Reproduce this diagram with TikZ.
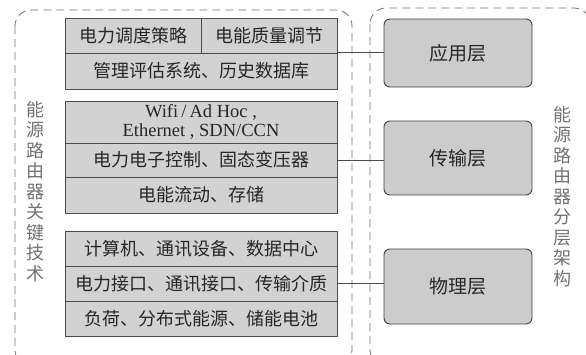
\documentclass[tikz,border=0pt]{standalone}
\usepackage{fontspec}
\setmainfont{Liberation Serif}
\newfontfamily\cjk{Noto Sans CJK SC}
\begin{document}
\begin{tikzpicture}[x=1pt,y=-1pt,
 cell/.style={draw=black!70, fill=gray!35, line width=0.8pt, inner sep=0pt, anchor=center, font=\cjk\fontsize{18}{20}\selectfont, text=black!85},
 layer/.style={draw=black!75, fill=gray!40, rounded corners=6pt, line width=0.9pt, minimum width=148pt, inner sep=0pt, font=\cjk\fontsize{19}{22}\selectfont, text=black!85},
 frame/.style={draw=black!55, dash pattern=on 8pt off 5pt, rounded corners=16pt, line width=0.8pt},
 vtext/.style={font=\cjk\fontsize{18}{20.5}\selectfont, text=black!55, align=center, inner sep=0pt},
 link/.style={draw=black!70, line width=0.6pt}]
\fill[white] (0,0) rectangle (586,354);
\useasboundingbox (0,0) rectangle (586,354);
\clip (0,0) rectangle (586,354);
% frames
\draw[frame] (15,10) rectangle (352,366);
\draw[frame] (370,8) rectangle (590,366);
% group 1
\node[cell, minimum width=136pt, minimum height=35pt] (a1) at (133,35.5) {电力调度策略};
\node[cell, minimum width=136pt, minimum height=35pt] (a2) at (269,35.5) {电能质量调节};
\node[cell, minimum width=272pt, minimum height=36pt] (a3) at (201,71) {管理评估系统、历史数据库};
% group 2
\node[cell, minimum width=272pt, minimum height=42pt, font=\fontsize{18.5}{18.5}\selectfont, align=center] (b1) at (201,122) {Wifi\,/\,Ad Hoc ,\\Ethernet , SDN/CCN};
\node[cell, minimum width=272pt, minimum height=34pt] (b2) at (201,160) {电力电子控制、固态变压器};
\node[cell, minimum width=272pt, minimum height=36pt] (b3) at (201,195) {电能流动、存储};
% group 3
\node[cell, minimum width=272pt, minimum height=35pt] (c1) at (201,248.5) {计算机、通讯设备、数据中心};
\node[cell, minimum width=272pt, minimum height=35pt] (c2) at (201,283.5) {电力接口、通讯接口、传输介质};
\node[cell, minimum width=272pt, minimum height=35pt] (c3) at (201,318.5) {负荷、分布式能源、储能电池};
% layers
\node[layer, minimum height=68pt] (r1) at (458,53) {应用层};
\node[layer, minimum height=74pt] (r2) at (458,158) {传输层};
\node[layer, minimum height=75pt] (r3) at (458,286.5) {物理层};
% links
\draw[link] (a3.north east) -- (a3.north east -| r1.west);
\draw[link] (b2.east) -- (b2.east -| r2.west);
\draw[link] (c2.east) -- (c2.east -| r3.west);
% vertical labels
\node[vtext, anchor=north] (lt) at (36,101) {能\\源\\路\\由\\器\\关\\键\\技\\术};
\node[vtext, anchor=north] (rt) at (562,106) {能\\源\\路\\由\\器\\分\\层\\架\\构};
\end{tikzpicture}
\end{document}
